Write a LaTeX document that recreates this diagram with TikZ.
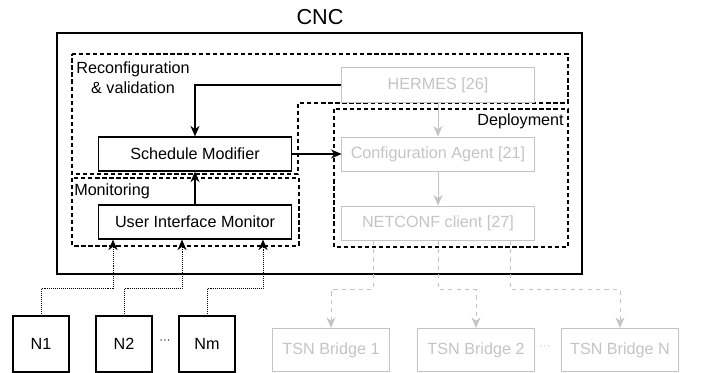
\documentclass[tikz,border=0pt]{standalone}
\usepackage{fontspec}
\setmainfont{Liberation Sans}
\usepackage{tikz}
\usetikzlibrary{arrows.meta,calc}
\definecolor{paleGray}{RGB}{196,196,196}
\tikzset{
     blockNode/.style =
        { rectangle
        , draw
        , line width=0.9pt
        , minimum width=4.83cm
        , minimum height=0.85cm
        , inner sep=0pt
        },
     paleNode/.style =
        { rectangle
        , draw=paleGray
        , text=paleGray
        , line width=0.7pt
        , minimum width=4.8cm
        , minimum height=0.85cm
        , inner sep=0pt
        },
     endNode/.style =
        { rectangle
        , draw
        , line width=0.8pt
        , minimum size=1.4cm
        },
     bridgeNode/.style =
        { paleNode
        , minimum width=2.93cm
        , minimum height=1.08cm
        },
     groupBox/.style =
        { draw
        , line width=0.9pt
        , dash pattern=on 3pt off 2pt
        },
     groupLabel/.style =
        { inner sep=0pt
        },
     dotsNode/.style =
        { inner sep=0pt
        , font=\fontsize{8}{9}\selectfont
        },
     dataLine/.style =
        { ->
        , line width=0.6pt
        , dash pattern=on 0.6pt off 0.8pt
        },
     deployLine/.style =
        { ->
        , paleGray
        , line width=0.7pt
        , dash pattern=on 3pt off 3pt
        }
}
\begin{document}
\begin{tikzpicture}
            [ x=0.025cm
            , y=-0.025cm
            , >={Stealth[length=7.5pt,width=6.5pt]}
            , every node/.style={font=\fontsize{11.5}{14}\selectfont}
            ]
            \useasboundingbox (0,0) rectangle (712,373);

            % controller frame
            \node[font=\fontsize{15.4}{18}\selectfont] (cncLabel) at (320,17) {CNC};
            \draw[line width=0.9pt] (57,33) rectangle (582,274);

            % dashed groups
            \draw[groupBox] (72,54) -- (568,54) -- (568,103) -- (298,103)
                -- (298,174) -- (72,174) -- cycle;
            \draw[groupBox] (72,178) rectangle (299,246);
            \draw[groupBox] (334,109) rectangle (568,247);
            \node[groupLabel, align=center] (reconfLabel) at (133,78)
                {Reconfiguration\\\& validation};
            \node[groupLabel, anchor=west] (monLabel) at (74,191) {Monitoring};
            \node[groupLabel, anchor=east] (depLabel) at (564,121) {Deployment};

            % blocks
            \node[blockNode] (sched) at (195,154) {Schedule Modifier};
            \node[blockNode] (uim) at (195,222) {User Interface Monitor};
            \node[paleNode] (hermes) at (438,85) {HERMES [26]};
            \node[paleNode] (config) at (438,154) {Configuration Agent [21]};
            \node[paleNode] (netconf) at (438,223) {NETCONF client [27]};

            % end nodes
            \node[endNode] (n1) at (41,344) {N1};
            \node[endNode] (n2) at (124,344) {N2};
            \node[endNode] (nm) at (207,344) {Nm};
            \node[dotsNode] (nDots) at (165,342)
                {\textperiodcentered\textperiodcentered\textperiodcentered};

            % bridges
            \node[bridgeNode] (b1) at (331,350) {TSN Bridge 1};
            \node[bridgeNode] (b2) at (476,350) {TSN Bridge 2};
            \node[bridgeNode] (bN) at (620,350) {TSN Bridge N};
            \node[dotsNode, text=paleGray] (bDots) at (545,348)
                {\textperiodcentered\textperiodcentered\textperiodcentered};

            % control flow
            \draw[->, line width=0.9pt] (hermes) -| (sched);
            \draw[->, line width=0.9pt] (sched) -- (config);
            \draw[->, line width=0.9pt] (uim) -- (sched);
            \draw[->, paleGray, line width=0.7pt] (hermes) -- (config);
            \draw[->, paleGray, line width=0.7pt] (config) -- (netconf);

            % monitoring data
            \draw[dataLine] (n1.north) -- ++(0,-27) -| ($(uim.south)+(-82,0)$);
            \draw[dataLine] (n2.north) -- ++(0,-27) -| ($(uim.south)+(-13,0)$);
            \draw[dataLine] (nm.north) -- ++(0,-27) -| ($(uim.south)+(68,0)$);

            % deployment
            \draw[deployLine] ($(netconf.south)+(-65,0)$) -- ++(0,49) -| (b1.north);
            \draw[deployLine] (netconf.south) -- ++(0,49) -| (b2.north);
            \draw[deployLine] ($(netconf.south)+(72,0)$) -- ++(0,49) -| (bN.north);
\end{tikzpicture}
\end{document}
